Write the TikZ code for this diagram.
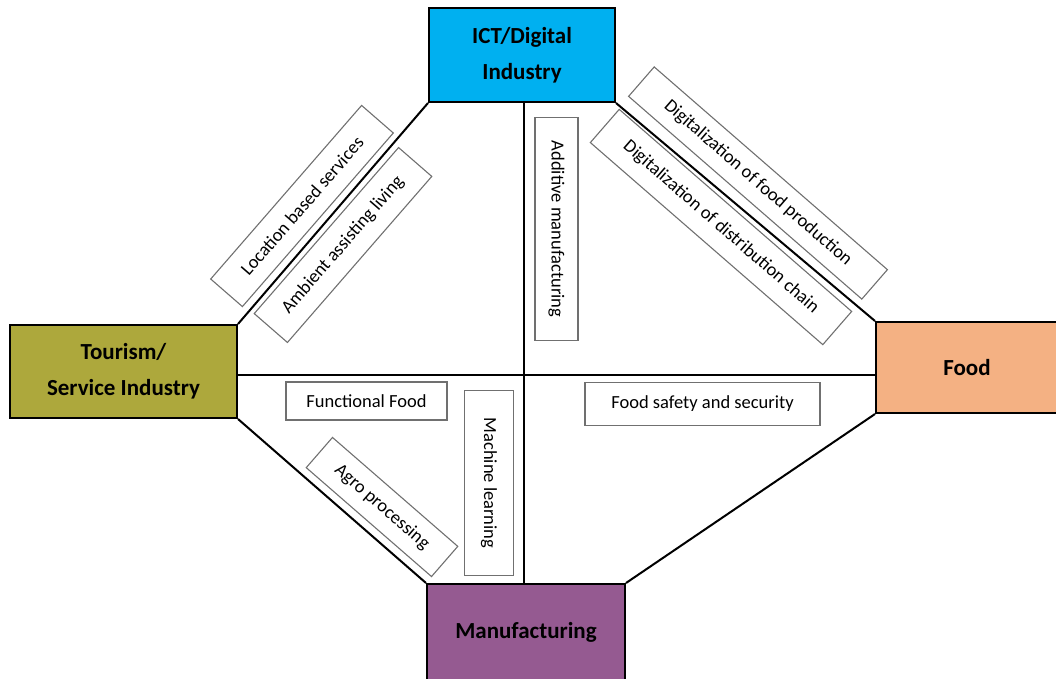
\documentclass[tikz,border=0pt]{standalone}
\usepackage{fontspec}
\setmainfont{Carlito}
\definecolor{ictblue}{HTML}{00B0F0}
\definecolor{tourolive}{HTML}{ADA83C}
\definecolor{foodpeach}{HTML}{F4B183}
\definecolor{manpurple}{HTML}{955A91}
\definecolor{tagline}{HTML}{707070}
\begin{document}
\begin{tikzpicture}[x=1pt,y=-1pt,
  sector/.style={draw=black, line width=2pt, font=\fontsize{23}{36}\selectfont\bfseries, align=center, inner sep=0pt},
  tag/.style={draw=tagline, line width=1.1pt, font=\fontsize{18.5}{22}\selectfont, inner sep=0pt},
  link/.style={line width=2pt, draw=black}]
\useasboundingbox (0,0) rectangle (1056,678);
% sector boxes
\node[sector, fill=ictblue, minimum width=186pt, minimum height=94pt] (ict) at (522,55) {ICT/Digital\\Industry};
\node[sector, fill=tourolive, minimum width=227pt, minimum height=93pt] (tour) at (123.5,371.5) {Tourism/\\Service Industry};
\node[sector, fill=foodpeach, minimum width=182pt, minimum height=91pt] (food) at (967,367.5) {Food};
\node[sector, fill=manpurple, minimum width=198pt, minimum height=96pt] (man) at (526,632) {Manufacturing};
% connectors
\coordinate (hy) at (0,375);
\coordinate (vx) at (524,0);
\draw[link] (ict.south west) -- (tour.north east);
\draw[link] (ict.south east) -- (food.north west);
\draw[link] (tour.south east) -- (man.north west);
\draw[link] (man.north east) -- (food.south west);
\draw[link] (tour.east |- hy) -- (food.west |- hy);
\draw[link] (vx |- ict.south) -- (vx |- man.north);
% topic labels
\node[tag, rotate=49, minimum width=230pt, minimum height=42pt] (lbs) at (302,206) {Location based services};
\node[tag, rotate=49, minimum width=220pt, minimum height=44pt] (aal) at (343,245) {Ambient assisting living};
\node[tag, rotate=-90, minimum width=223pt, minimum height=43pt] (am) at (556.5,229) {Additive manufacturing};
\node[tag, rotate=-41, minimum width=309pt, minimum height=39pt] (dfp) at (758,183) {Digitalization of food production};
\node[tag, rotate=-41, minimum width=308pt, minimum height=44pt] (ddc) at (721,227) {Digitalization of distribution chain};
\node[tag, minimum width=161pt, minimum height=38pt] (ff) at (366.5,401) {Functional Food};
\node[tag, rotate=-90, minimum width=185pt, minimum height=49pt] (ml) at (489,483) {Machine learning};
\node[tag, rotate=-41, minimum width=166pt, minimum height=40pt] (ap) at (382,507) {Agro processing};
\node[tag, minimum width=235pt, minimum height=43pt] (fss) at (702.5,404) {Food safety and security};
\end{tikzpicture}
\end{document}
